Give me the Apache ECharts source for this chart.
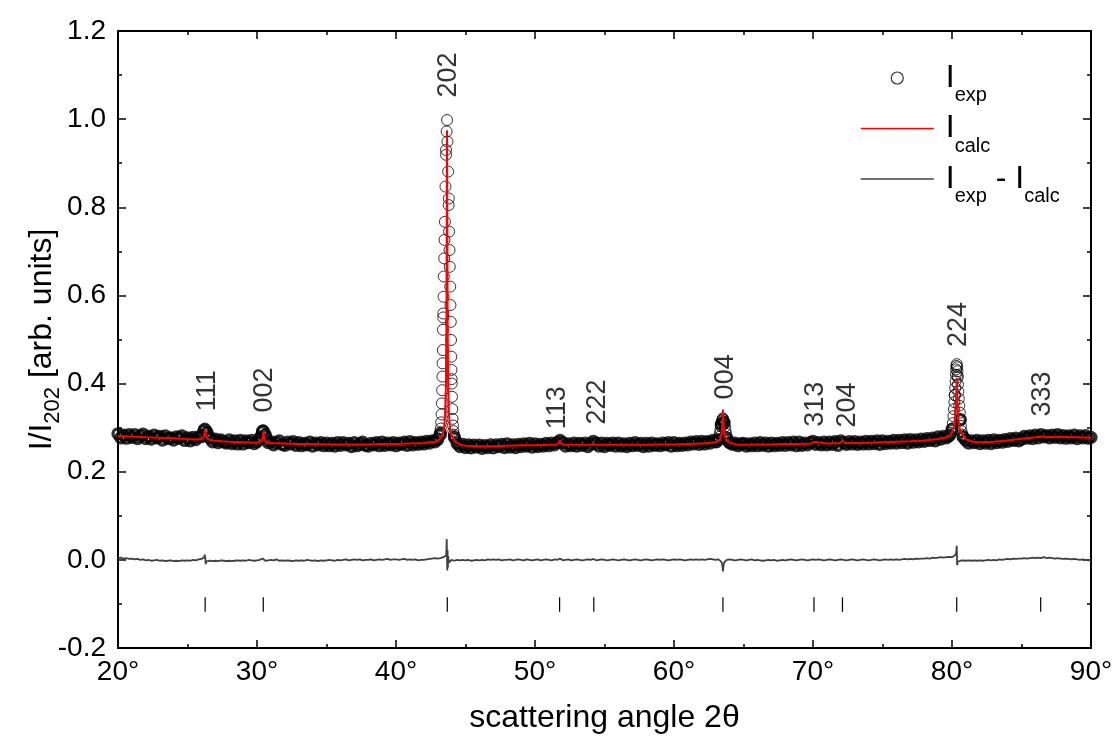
<!DOCTYPE html>
<html><head><meta charset="utf-8">
<script src="https://cdn.jsdelivr.net/npm/echarts@6/dist/echarts.min.js"></script>
<style>html,body{margin:0;padding:0;background:#fff}#c{width:1117px;height:744px}</style>
</head><body><div id="c"></div>
<script>
var FF = '"Liberation Sans", Arial, Helvetica, sans-serif';

// measured experimental intensity on the 0.2 deg grid (20.0 ... 90.0)
var expGridStart = 20, expGridStep = 0.2;
var expGridValues = [
0.286,0.277,0.283,0.276,0.284, 0.278,0.284,0.275,0.281,0.285,
0.275,0.280,0.274,0.283,0.277, 0.280,0.272,0.281,0.275,0.277,
0.272,0.279,0.276,0.281,0.271, 0.277,0.270,0.278,0.273,0.279,
0.280,0.295,0.289,0.277,0.268, 0.274,0.266,0.272,0.268,0.265,
0.272,0.264,0.270,0.263,0.271, 0.263,0.270,0.266,0.271,0.264,
0.268,0.276,0.292,0.283,0.266, 0.268,0.261,0.266,0.270,0.262,
0.260,0.267,0.263,0.268,0.260, 0.266,0.259,0.264,0.261,0.267,
0.258,0.265,0.261,0.266,0.259, 0.265,0.259,0.264,0.258,0.266,
0.260,0.266,0.261,0.264,0.257, 0.266,0.259,0.263,0.267,0.260,
0.258,0.264,0.261,0.266,0.259, 0.267,0.260,0.265,0.261,0.266,
0.259,0.265,0.262,0.267,0.260, 0.268,0.261,0.266,0.262,0.267,
0.263,0.269,0.265,0.270,0.268, 0.273,0.285,0.550,0.930,0.820,
0.410,0.278,0.264,0.257,0.262, 0.255,0.261,0.254,0.260,0.256,
0.260,0.253,0.259,0.255,0.261, 0.254,0.261,0.257,0.262,0.255,
0.263,0.256,0.261,0.255,0.262, 0.257,0.263,0.258,0.264,0.256,
0.263,0.257,0.262,0.258,0.264, 0.259,0.265,0.261,0.266,0.271,
0.266,0.258,0.263,0.259,0.265, 0.258,0.264,0.260,0.265,0.257,
0.263,0.269,0.264,0.258,0.265, 0.257,0.264,0.260,0.265,0.258,
0.265,0.258,0.263,0.257,0.264, 0.259,0.266,0.260,0.264,0.257,
0.264,0.258,0.265,0.260,0.263, 0.259,0.265,0.261,0.266,0.258,
0.266,0.259,0.264,0.260,0.265, 0.261,0.267,0.263,0.268,0.262,
0.269,0.263,0.268,0.265,0.271, 0.268,0.273,0.307,0.312,0.276,
0.266,0.262,0.265,0.259,0.263, 0.264,0.258,0.263,0.259,0.265,
0.259,0.266,0.260,0.265,0.258, 0.265,0.259,0.264,0.260,0.266,
0.260,0.266,0.261,0.267,0.259, 0.267,0.260,0.265,0.261,0.266,
0.269,0.262,0.266,0.261,0.267, 0.261,0.267,0.262,0.268,0.260,
0.270,0.266,0.262,0.268,0.263, 0.268,0.262,0.267,0.263,0.269,
0.263,0.269,0.264,0.270,0.262, 0.270,0.264,0.269,0.265,0.271,
0.265,0.271,0.266,0.272,0.265, 0.273,0.267,0.272,0.268,0.274,
0.269,0.275,0.271,0.276,0.270, 0.279,0.274,0.280,0.277,0.282,
0.296,0.374,0.418,0.318,0.279, 0.272,0.265,0.270,0.266,0.271,
0.264,0.270,0.265,0.271,0.264, 0.272,0.266,0.271,0.267,0.273,
0.269,0.275,0.271,0.276,0.270, 0.274,0.280,0.276,0.281,0.275,
0.283,0.277,0.284,0.279,0.282, 0.277,0.283,0.278,0.284,0.277,
0.282,0.276,0.281,0.277,0.283, 0.275,0.281,0.277,0.282,0.276,
0.278
];

// extra measured points on the Bragg peaks [angle, intensity]
var exp111 = [[26.27,0.298],[26.20,0.296],[26.34,0.295],[26.12,0.290],[26.42,0.289],[26.04,0.283],[26.50,0.282],[25.95,0.278],[26.60,0.275]];
var exp002 = [[30.46,0.294],[30.40,0.292],[30.52,0.291],[30.33,0.287],[30.58,0.285],[30.25,0.280],[30.65,0.278],[30.15,0.273],[30.75,0.271]];
var exp202 = [[43.67,0.998],[43.64,0.972],[43.70,0.949],[43.60,0.919],[43.75,0.881],[43.56,0.847],[43.79,0.805],[43.52,0.767],[43.82,0.745],[43.49,0.726],[43.85,0.703],[43.47,0.684],[43.87,0.665],[43.44,0.643],[43.90,0.620],[43.42,0.597],[43.92,0.578],[43.40,0.559],[43.94,0.540],[43.38,0.522],[43.96,0.499],[43.37,0.476],[43.98,0.461],[43.35,0.446],[43.99,0.431],[43.34,0.416],[44.01,0.400],[43.32,0.385],[44.03,0.370],[43.30,0.355],[44.05,0.342],[43.28,0.330],[44.07,0.320],[43.25,0.312],[44.10,0.305],[43.22,0.298],[44.13,0.292],[43.18,0.290],[44.17,0.284],[43.14,0.285],[44.22,0.278],[43.08,0.280],[44.30,0.272],[43.00,0.276],[44.40,0.267]];
var exp004 = [[63.52,0.321],[63.50,0.319],[63.54,0.318],[63.46,0.315],[63.58,0.314],[63.42,0.310],[63.62,0.309],[63.38,0.303],[63.66,0.302],[63.34,0.295],[63.70,0.294],[63.30,0.287],[63.74,0.286],[63.26,0.279],[63.78,0.278],[63.20,0.272],[63.84,0.271],[63.10,0.267],[63.94,0.266]];
var exp224 = [[80.34,0.444],[80.32,0.440],[80.37,0.437],[80.30,0.432],[80.39,0.428],[80.28,0.420],[80.41,0.414],[80.26,0.405],[80.43,0.398],[80.23,0.390],[80.46,0.382],[80.20,0.374],[80.49,0.366],[80.17,0.358],[80.52,0.350],[80.14,0.342],[80.56,0.334],[80.10,0.326],[80.60,0.318],[80.06,0.310],[80.64,0.304],[80.01,0.298],[80.69,0.292],[79.95,0.288],[80.75,0.284],[79.88,0.283],[80.82,0.278],[79.80,0.280],[80.92,0.272]];

// calculated profile [angle, intensity]
var calcCurve = [[20,0.281],[21,0.280],[22,0.278],[23,0.277],[24,0.276],[25,0.274],[25.8,0.273],[26.1,0.276],[26.2,0.281],[26.27,0.296],[26.34,0.280],[26.45,0.274],[26.8,0.271],[27.5,0.269],[28,0.268],[29,0.267],[30,0.266],[30.3,0.269],[30.4,0.276],[30.46,0.291],[30.52,0.275],[30.65,0.267],[31,0.265],[32,0.264],[33,0.263],[34,0.263],[35,0.262],[36,0.262],[37,0.262],[38,0.262],[39,0.263],[40,0.263],[41,0.264],[42,0.265],[42.8,0.268],[43.1,0.273],[43.3,0.280],[43.45,0.297],[43.53,0.330],[43.59,0.400],[43.63,0.550],[43.655,0.800],[43.67,0.975],[43.685,0.800],[43.71,0.550],[43.75,0.400],[43.81,0.330],[43.89,0.297],[44.02,0.280],[44.25,0.268],[44.6,0.262],[45,0.259],[46,0.258],[47,0.258],[48,0.259],[49,0.260],[50,0.260],[51,0.261],[51.6,0.262],[51.72,0.266],[51.77,0.271],[51.82,0.265],[52,0.262],[53,0.261],[54,0.261],[54.15,0.263],[54.23,0.267],[54.3,0.262],[55,0.261],[56,0.261],[57,0.261],[58,0.261],[59,0.262],[60,0.262],[61,0.263],[62,0.264],[63,0.267],[63.3,0.272],[63.42,0.285],[63.48,0.305],[63.52,0.341],[63.56,0.305],[63.62,0.285],[63.74,0.272],[64,0.266],[64.5,0.262],[65,0.261],[66,0.262],[67,0.262],[68,0.263],[69,0.263],[69.9,0.264],[70.07,0.268],[70.2,0.264],[71,0.264],[71.95,0.265],[72.12,0.271],[72.3,0.265],[73,0.265],[74,0.266],[75,0.267],[76,0.268],[77,0.269],[78,0.271],[79,0.274],[79.6,0.278],[79.95,0.285],[80.12,0.297],[80.22,0.320],[80.28,0.350],[80.32,0.390],[80.34,0.413],[80.36,0.390],[80.40,0.350],[80.46,0.320],[80.56,0.297],[80.73,0.285],[81.0,0.274],[81.5,0.268],[82,0.267],[83,0.268],[84,0.271],[85,0.275],[86,0.278],[86.4,0.280],[87,0.279],[88,0.279],[89,0.278],[90,0.277]];

// difference curve on the 0.2 deg grid
var diffGridValues = [
0.004,0.005,0.003,0.004,0.002, 0.003,0.001,0.002,0.000,0.001,
-0.001,0.000,-0.002,-0.001,0.000, -0.002,-0.001,-0.003,-0.002,-0.001,
-0.003,-0.002,-0.003,-0.001,-0.002, -0.001,-0.002,0.000,-0.001,0.001,
0.002,0.006,-0.006,-0.002,-0.003, -0.002,-0.003,-0.001,-0.002,-0.003,
-0.002,-0.003,-0.002,-0.001,-0.002, -0.001,-0.002,0.000,-0.001,-0.002,
-0.001,0.000,0.003,-0.002,-0.001, 0.000,-0.001,0.001,-0.002,-0.001,
-0.002,-0.001,-0.002,-0.003,-0.001, -0.002,-0.001,-0.002,0.000,-0.001,
-0.002,-0.001,-0.003,-0.001,-0.002, -0.001,0.000,-0.001,-0.002,0.000,
-0.001,0.000,0.001,-0.001,0.000, 0.001,0.000,0.001,-0.001,0.000,
0.000,0.001,-0.001,0.000,0.001, 0.000,0.001,0.002,0.000,0.001,
0.001,0.000,0.001,0.002,0.000, 0.001,0.000,0.001,-0.001,0.000,
0.000,0.001,0.002,0.003,0.004, 0.003,0.004,0.006,0.010,-0.006,
0.000,-0.002,0.000,-0.001,0.000, -0.001,0.000,-0.002,-0.001,0.000,
-0.001,0.000,-0.001,0.001,0.000, 0.001,0.000,0.001,-0.001,0.000,
0.000,0.001,-0.001,0.000,0.001, 0.000,-0.001,0.001,0.000,-0.001,
0.000,0.001,-0.001,0.000,0.001, 0.000,-0.001,0.001,0.000,0.003,
-0.001,0.000,0.001,-0.001,0.000, 0.001,0.000,-0.001,0.000,0.001,
0.000,0.002,-0.001,0.000,0.001, 0.000,-0.001,0.000,0.001,0.000,
-0.001,0.000,0.001,0.000,-0.001, 0.000,0.001,0.000,-0.001,0.000,
0.001,0.000,-0.001,0.000,0.001, 0.000,0.001,0.000,-0.001,0.000,
0.001,0.000,0.001,0.000,-0.001, 0.000,0.001,0.000,0.001,0.000,
0.001,0.000,0.001,0.002,0.001, 0.000,0.001,-0.004,-0.006,0.000,
0.001,0.000,-0.001,0.000,0.001, 0.000,-0.001,0.000,0.001,-0.001,
0.000,-0.001,-0.002,-0.001,0.000, -0.001,0.000,-0.002,-0.001,0.000,
-0.001,0.000,0.001,0.000,-0.001, 0.000,0.001,0.000,-0.001,0.000,
0.001,0.000,0.001,0.000,-0.001, 0.000,0.001,0.000,-0.001,0.000,
0.001,0.000,-0.001,0.000,0.001, 0.000,-0.001,0.000,0.001,0.000,
-0.001,0.000,0.001,0.000,-0.001, 0.000,0.001,0.000,0.001,0.000,
0.001,0.000,0.001,0.002,0.001, 0.002,0.001,0.003,0.002,0.003,
0.003,0.004,0.003,0.005,0.004, 0.005,0.006,0.005,0.006,0.007,
0.006,0.010,-0.008,-0.002,-0.001, -0.002,-0.001,-0.002,-0.001,-0.002,
-0.001,-0.002,-0.001,0.000,-0.001, 0.000,-0.001,0.001,0.000,0.001,
0.002,0.001,0.003,0.002,0.003, 0.003,0.004,0.003,0.004,0.005,
0.004,0.005,0.004,0.006,0.004, 0.005,0.004,0.003,0.004,0.003,
0.002,0.003,0.002,0.001,0.002, 0.001,0.000,0.001,0.000,-0.001,
0.000
];
// difference spikes at the peaks [angle, value]
var diffSpikes = [[26.24,0.012],[26.28,0.004],[26.31,-0.010],[26.34,-0.004],[43.62,0.015],[43.65,0.047],[43.67,0.005],[43.69,-0.024],[43.71,0.022],[43.73,-0.018],[43.76,0.008],[63.48,-0.012],[63.52,-0.026],[63.56,-0.014],[80.30,0.015],[80.34,0.032],[80.37,-0.012],[80.42,-0.004]];

// Bragg reflections
var braggAngles = [26.27, 30.45, 43.69, 51.77, 54.23, 63.52, 70.07, 72.12, 80.34, 86.38];
var braggTickTop = -0.085, braggTickBottom = -0.118;
var hklLabels = ['111','002','202','113','222','004','313','204','224','333'];
var hklLabelAngles = [26.47, 30.58, 43.81, 51.65, 54.53, 63.74, 70.22, 72.52, 80.5, 86.55];
var hklLabelBase = [0.336, 0.333, 1.048, 0.295, 0.306, 0.363, 0.301, 0.299, 0.482, 0.324];

// ---- build series data ----
var expGridData = expGridValues.map(function(v, i){ return [+(expGridStart + i*expGridStep).toFixed(2), v]; });
// dense background band is drawn with heavier rings, tall peak points with thin rings
var expBand = expGridData.filter(function(p){ return p[1] < 0.33; });
var expPeakData = expGridData.filter(function(p){ return p[1] >= 0.33; }).concat(exp111, exp002, exp202, exp004, exp224);
var diffData = diffGridValues.map(function(v, i){ return [+(expGridStart + i*expGridStep).toFixed(2), v]; })
  .concat(diffSpikes).sort(function(a,b){ return a[0]-b[0]; });
var labelData = hklLabels.map(function(h, i){ return {value:[hklLabelAngles[i], hklLabelBase[i]], name:h}; });

var axisCommon = {
  type:'value',
  axisLine:{show:true, onZero:false, lineStyle:{color:'#000', width:2}},
  axisTick:{show:true, inside:true, length:8, lineStyle:{color:'#000', width:1.5}},
  minorTick:{show:true, splitNumber:2, length:4, lineStyle:{color:'#000', width:1.5}},
  splitLine:{show:false}
};
function ax(extra){ var o = JSON.parse(JSON.stringify(axisCommon)); for (var k in extra) o[k]=extra[k]; return o; }

var hidden = {color:'rgba(0,0,0,0)', borderColor:'rgba(0,0,0,0)', borderWidth:0};

var chart = echarts.init(document.getElementById('c'), null, {renderer:'canvas'});
chart.setOption({
  animation:false,
  backgroundColor:'#fff',
  grid:{left:118, right:26, top:31, bottom:96, containLabel:false, outerBoundsMode:'none'},
  xAxis:[
    ax({min:20, max:90, interval:10, position:'bottom',
      axisLabel:{formatter:'{value}°', fontSize:28, color:'#000', margin:10, fontFamily:FF},
      name:'scattering angle 2θ', nameLocation:'middle', nameGap:54, nameMoveOverlap:false,
      nameTextStyle:{fontSize:32, color:'#000', fontFamily:FF}}),
    ax({min:20, max:90, interval:10, position:'top', axisLabel:{show:false}})
  ],
  yAxis:[
    ax({min:-0.2, max:1.2, interval:0.2, position:'left',
      axisLabel:{formatter:function(v){ return v.toFixed(1); }, fontSize:28, color:'#000', margin:12, fontFamily:FF},
      name:'{t|I/I}{s|202}{t| [arb. units]}', nameLocation:'middle', nameGap:60, nameMoveOverlap:false,
      nameTextStyle:{color:'#000', fontFamily:FF, rich:{
        t:{fontSize:32, lineHeight:32, color:'#000', fontFamily:FF},
        s:{fontSize:22, lineHeight:22, color:'#000', fontFamily:FF, padding:[22,0,0,0]}
      }}}),
    ax({min:-0.2, max:1.2, interval:0.2, position:'right', axisLabel:{show:false}})
  ],
  legend:{
    orient:'vertical', left:860, top:62, padding:0, itemGap:7,
    itemWidth:73, itemHeight:12, selectedMode:false,
    data:[
      {name:'Iexp', icon:'circle', itemStyle:{color:'rgba(0,0,0,0)', borderColor:'#000', borderWidth:1.2}},
      {name:'Icalc', itemStyle:hidden, lineStyle:{color:'#ff0000', width:1.5}},
      {name:'Iexp - Icalc', itemStyle:hidden, lineStyle:{color:'#404040', width:1.5}}
    ],
    formatter:function(n){
      if (n==='Iexp') return '{f|I}{s|exp}';
      if (n==='Icalc') return '{f|I}{s|calc}';
      return '{f|I}{s|exp}{b| - I}{s|calc}';
    },
    textStyle:{color:'#000', fontFamily:FF, rich:{
      f:{fontSize:32, color:'#000', fontFamily:FF, padding:[0,0,0,7]},
      b:{fontSize:32, color:'#000', fontFamily:FF},
      s:{fontSize:20, color:'#000', fontFamily:FF, padding:[35,0,0,0]}
    }}
  },
  series:[
    {name:'Iexp', type:'scatter', data:expBand, symbol:'circle', symbolSize:10,
     itemStyle:{color:'rgba(0,0,0,0)', borderColor:'#000', borderWidth:3.3},
     emphasis:{disabled:true}, z:2},
    {name:'Iexp', type:'scatter', data:expPeakData, symbol:'circle', symbolSize:11,
     itemStyle:{color:'rgba(0,0,0,0)', borderColor:'#000', borderWidth:1},
     emphasis:{disabled:true}, z:2},
    {name:'Iexp - Icalc', type:'line', data:diffData, symbol:'none', showSymbol:false,
     lineStyle:{color:'#404040', width:1.8}, itemStyle:{color:'#404040'}, emphasis:{disabled:true}, z:3},
    {name:'Icalc', type:'line', data:calcCurve, symbol:'none', showSymbol:false,
     lineStyle:{color:'#ff0000', width:2}, itemStyle:{color:'#ff0000'}, emphasis:{disabled:true}, z:4},
    {name:'bragg', type:'custom', data:braggAngles.map(function(a){return [a];}),
     encode:{x:0},
     renderItem:function(params, api){
       var p1 = api.coord([api.value(0), braggTickTop]);
       var p2 = api.coord([api.value(0), braggTickBottom]);
       return {type:'line', shape:{x1:p1[0], y1:p1[1], x2:p2[0], y2:p2[1]}, style:{stroke:'#000', lineWidth:1.2}};
     }, z:5},
    {name:'hkl', type:'scatter', data:labelData, symbolSize:1, itemStyle:{color:'rgba(0,0,0,0)'},
     emphasis:{disabled:true}, z:6,
     label:{show:true, position:[0,0], rotate:90, align:'left', verticalAlign:'middle',
       formatter:'{b}', fontSize:27, color:'#000', fontFamily:FF}}
  ]
});
</script></body></html>
